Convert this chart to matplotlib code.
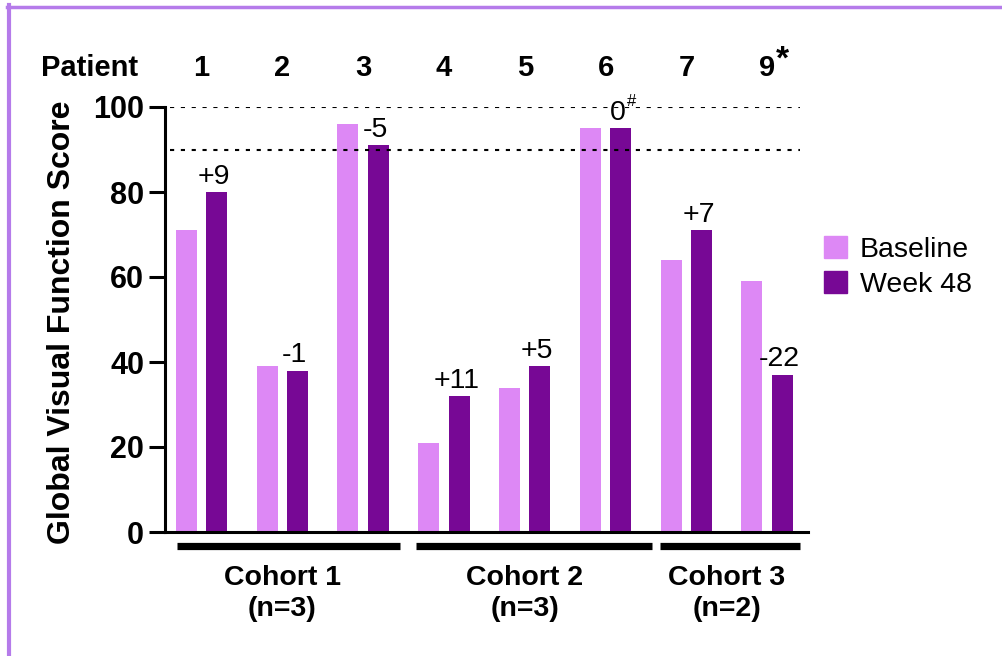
import matplotlib
matplotlib.use('Agg')
import matplotlib.pyplot as plt
from matplotlib.lines import Line2D
from matplotlib.patches import Patch
import numpy as np

plt.rcParams['font.family'] = ['Liberation Sans', 'DejaVu Sans']

# scores per patient
patients = ['1', '2', '3', '4', '5', '6', '7', '9']
patient_marks = ['', '', '', '', '', '', '', '*']
baseline = [71, 39, 96, 21, 34, 95, 64, 59]
week48 = [80, 38, 91, 32, 39, 95, 71, 37]
change_marks = ['', '', '', '', '', '#', '', '']

# cohorts as groups of patient positions
cohort_names = ['Cohort 1\n(n=3)', 'Cohort 2\n(n=3)', 'Cohort 3\n(n=2)']
cohort_members = [[0, 1, 2], [3, 4, 5], [6, 7]]

reference_lines = [100, 90]

c_base = '#DD88F5'
c_wk48 = '#770895'
c_frame = '#B57BEA'

# underline extents (x units) for each cohort
cohort_span = [(-0.30, 2.46), (2.65, 5.58), (5.67, 7.41)]

fig = plt.figure(figsize=(10.02, 6.56), dpi=100)
ax = fig.add_axes([165 / 1002, 124 / 656, 643 / 1002, 425 / 656])

x = np.arange(len(patients))
w = 0.26
off = 0.189
ax.bar(x - off, baseline, w, color=c_base, zorder=2)
ax.bar(x + off, week48, w, color=c_wk48, zorder=2)

# change from baseline above each week 48 bar
for xi, b, v, m in zip(x, baseline, week48, change_marks):
    d = v - b
    txt = '0' if d == 0 else f'{d:+d}'
    ax.annotate(txt, (xi + off, v), xytext=(-2, 6), textcoords='offset points',
                ha='center', va='baseline', fontsize=20.5, zorder=4)
    if m:
        ax.annotate(m, (xi + off, v), xytext=(8, 16), textcoords='offset points',
                    ha='center', va='baseline', fontsize=12, zorder=4)

for yv in reference_lines:
    ax.axhline(yv, xmin=0.008, xmax=0.988, color='black', lw=1.5,
               linestyle=(0, (2, 3.2)), zorder=3)

ax.set_xlim(-0.452, 7.506)
ax.set_ylim(0, 100)
ax.set_yticks([0, 20, 40, 60, 80, 100])
ax.set_xticks([])
for s in ['top', 'right']:
    ax.spines[s].set_visible(False)
ax.spines['left'].set_linewidth(2.2)
ax.spines['bottom'].set_linewidth(2.2)
ax.tick_params(axis='y', length=11.5, width=2.2, pad=3.5, labelsize=22)
for lab in ax.get_yticklabels():
    lab.set_fontweight('bold')

# patient row above the plot
tr = ax.get_xaxis_transform()
ax.text(-0.79, 1.092, 'Patient', transform=tr, ha='right', va='center',
        fontsize=21, fontweight='bold')
for xi, p, m in zip(x, patients, patient_marks):
    ax.text(xi, 1.092, p, transform=tr, ha='center', va='center',
            fontsize=21, fontweight='bold')
    if m:
        ax.annotate(m, (xi, 1.092), xycoords=tr, xytext=(11, 6),
                    textcoords='offset points', ha='center', va='center',
                    fontsize=24, fontweight='bold')

# cohort bars and names below the axis
for name, members, (x0, x1) in zip(cohort_names, cohort_members, cohort_span):
    ax.plot([x0, x1], [-0.034, -0.034], transform=tr, color='black', lw=5.2,
            solid_capstyle='butt', clip_on=False)
    ax.text(np.mean(members), -0.145, name, transform=tr, ha='center', va='center',
            fontsize=20.5, fontweight='bold', linespacing=1.25)

fig.text(62 / 1002, 1 - 322 / 656, 'Global Visual Function Score', rotation=90,
         ha='center', va='center', fontsize=23, fontweight='bold')

handles = [Patch(color=c_base, label='Baseline'), Patch(color=c_wk48, label='Week 48')]
fig.legend(handles=handles, loc='upper left', bbox_to_anchor=(824 / 1002, 1 - 236 / 656),
           frameon=False, fontsize=20.5, handlelength=0.8, handleheight=0.8,
           handletextpad=0.45, labelspacing=0.3, borderpad=0, borderaxespad=0)

# purple frame along the top and left edges
fig.add_artist(Line2D([9 / 1002, 9 / 1002], [0, 1 - 5 / 656], color=c_frame, lw=3,
                      transform=fig.transFigure))
fig.add_artist(Line2D([7 / 1002, 1], [1 - 6.5 / 656, 1 - 6.5 / 656], color=c_frame, lw=2.5,
                      transform=fig.transFigure))

fig.savefig('out.png', dpi=100, facecolor='white')
